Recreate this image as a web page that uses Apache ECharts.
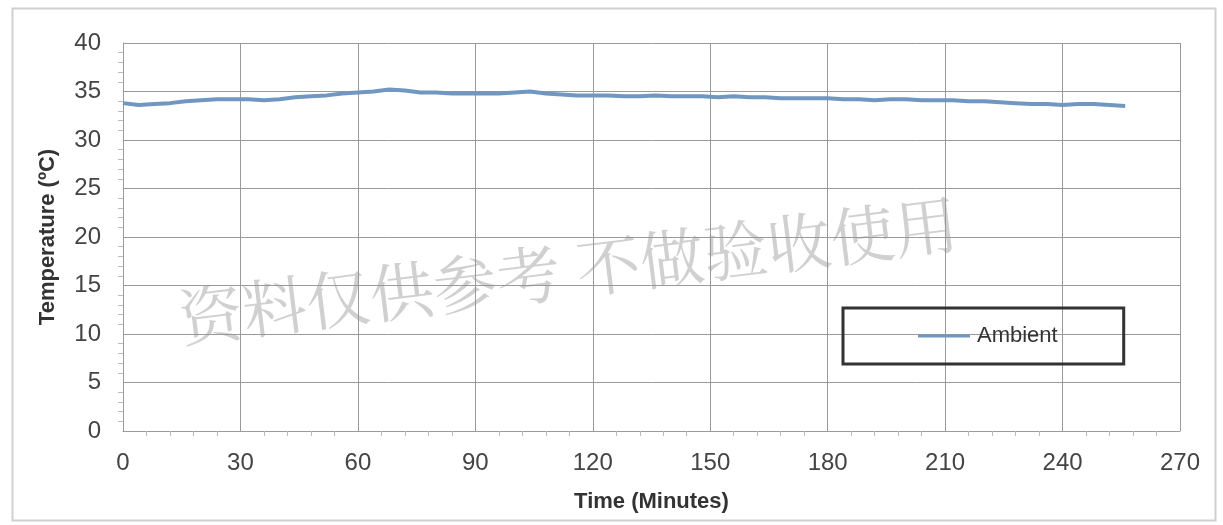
<!DOCTYPE html>
<html>
<head>
<meta charset="utf-8">
<script src="https://cdn.jsdelivr.net/npm/echarts@6/dist/echarts.min.js"></script>
<style>
html,body{margin:0;padding:0;background:#fff;}
#chart{width:1223px;height:525px;}
</style>
</head>
<body>
<div id="chart"></div>
<script>
const seriesName = 'Ambient';
const timeMinutes = [0,4,8,12,16,20,24,28,32,36,40,44,48,52,56,60,64,68,72,76,80,84,88,92,96,100,104,108,112,116,120,124,128,132,136,140,144,148,152,156,160,164,168,172,176,180,184,188,192,196,200,204,208,212,216,220,224,228,232,236,240,244,248,252,256];
const ambientTemp = [33.8,33.6,33.7,33.8,34.0,34.1,34.2,34.2,34.2,34.1,34.2,34.4,34.5,34.6,34.8,34.9,35.0,35.2,35.1,34.9,34.9,34.8,34.8,34.8,34.8,34.9,35.0,34.8,34.7,34.6,34.6,34.6,34.5,34.5,34.6,34.5,34.5,34.5,34.4,34.5,34.4,34.4,34.3,34.3,34.3,34.3,34.2,34.2,34.1,34.2,34.2,34.1,34.1,34.1,34.0,34.0,33.9,33.8,33.7,33.7,33.6,33.7,33.7,33.6,33.5];
const xTitle = 'Time (Minutes)';
const yTitle = 'Temperature (ºC)';
const watermark = '资料仅供参考 不做验收使用';

const font = '"Liberation Sans Narrow", "Arial Narrow", "Liberation Sans", Arial, sans-serif';
const gridColor = '#9a9a9a';
const chart = echarts.init(document.getElementById('chart'));
chart.setOption({
  animation: false,
  backgroundColor: '#fff',
  grid: {left: 123, right: 43, top: 43, bottom: 94},
  legend: {
    data: [seriesName],
    left: 843, top: 308,
    padding: [17, 66, 17, 75],
    borderColor: '#333', borderWidth: 3,
    itemWidth: 52, itemHeight: 3, itemGap: 0,
    icon: 'rect',
    textStyle: {fontFamily: font, fontSize: 22, color: '#333', padding: [0,0,0,2]}
  },
  xAxis: {
    type: 'value', min: 0, max: 270, interval: 30,
    name: xTitle, nameLocation: 'middle', nameGap: 60,
    nameTextStyle: {fontFamily: font, fontSize: 22, fontWeight: 'bold', color: '#333'},
    axisLine: {show: true, lineStyle: {color: gridColor, width: 1}},
    axisTick: {show: false},
    minorTick: {show: true, splitNumber: 5, length: 5, lineStyle: {color: '#bbb'}},
    axisLabel: {fontFamily: font, fontSize: 24, color: '#444', margin: 20},
    splitLine: {show: true, lineStyle: {color: gridColor, width: 1}}
  },
  yAxis: {
    type: 'value', min: 0, max: 40, interval: 5,
    name: yTitle, nameLocation: 'middle', nameGap: 64, nameRotate: 90,
    nameTextStyle: {fontFamily: font, fontSize: 22, fontWeight: 'bold', color: '#333'},
    axisLine: {show: true, lineStyle: {color: gridColor, width: 1}},
    axisTick: {show: false},
    minorTick: {show: true, splitNumber: 5, length: 5, lineStyle: {color: '#bbb'}},
    axisLabel: {fontFamily: font, fontSize: 24, color: '#444', margin: 22},
    splitLine: {show: true, lineStyle: {color: gridColor, width: 1}}
  },
  series: [{
    name: seriesName,
    type: 'line',
    data: timeMinutes.map((t, i) => [t, ambientTemp[i]]),
    showSymbol: false,
    symbol: 'none',
    lineStyle: {color: '#7097c2', width: 4},
    itemStyle: {color: '#7097c2'}
  }],
  graphic: [
    {type: 'rect', left: 10, top: 6, shape: {width: 1203, height: 512}, style: {fill: 'none', stroke: '#d0d0d0', lineWidth: 2}, z: -1, silent: true},
    {type: 'text', x: 183, y: 350, rotation: 7 * Math.PI / 180,
     style: {text: watermark, fontFamily: '"Noto Serif CJK SC","Noto Sans CJK SC", serif', fontSize: 64, fill: 'rgba(150,150,150,0.45)', textVerticalAlign: 'bottom'}, z: 1, silent: true}
  ]
});
</script>
</body>
</html>
